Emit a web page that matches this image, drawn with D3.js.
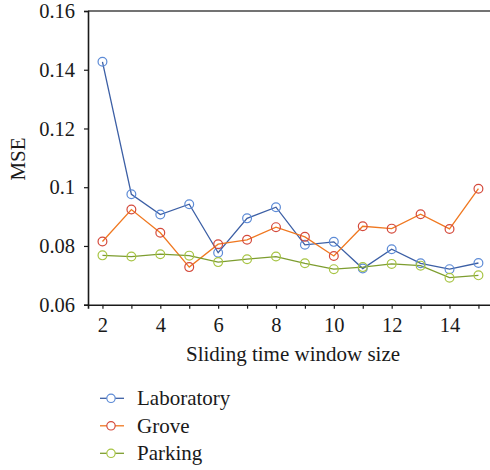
<!DOCTYPE html>
<html>
<head>
<meta charset="utf-8">
<script src="https://cdn.jsdelivr.net/npm/d3@7"></script>
<style>
  html, body { margin: 0; padding: 0; background: #fff; }
  svg { display: block; }
</style>
</head>
<body>
<svg id="chart" width="490" height="470"></svg>
<script>
// Sliding time window sizes
const windowSizes = [2, 3, 4, 5, 6, 7, 8, 9, 10, 11, 12, 13, 14, 15];

// MSE per scene
const laboratory = [0.1427, 0.0976, 0.0907, 0.0942, 0.0777, 0.0894, 0.0932, 0.0804, 0.0814, 0.0723, 0.0789, 0.0741, 0.0721, 0.0742];
const grove      = [0.0815, 0.0924, 0.0845, 0.0728, 0.0806, 0.0821, 0.0864, 0.0831, 0.0766, 0.0867, 0.0859, 0.0908, 0.0858, 0.0995];
const parking    = [0.0768, 0.0764, 0.0772, 0.0767, 0.0745, 0.0755, 0.0764, 0.0741, 0.0721, 0.0728, 0.0739, 0.0733, 0.0692, 0.0700];

const seriesNames = ["Laboratory", "Grove", "Parking"];

// Tick labels
const xTicks = [2, 4, 6, 8, 10, 12, 14];
const yTicks = [0.06, 0.08, 0.1, 0.12, 0.14, 0.16];
const yTickLabels = ["0.06", "0.08", "0.1", "0.12", "0.14", "0.16"];

const FONT = '"Liberation Serif"';
const FS = "20.5px";
const INK = "#1a1a1a";

const series = [
  { name: seriesNames[0], values: laboratory, line: "#3c5fa5", marker: "#5d8bd6" },
  { name: seriesNames[1], values: grove,      line: "#f07820", marker: "#d44a3c" },
  { name: seriesNames[2], values: parking,    line: "#7d9d2f", marker: "#a7c443" }
];

const svg = d3.select("#chart");

const x = d3.scaleLinear().domain([1.5, 15.5]).range([88, 492.9]);
const y = d3.scaleLinear().domain([0.06, 0.16]).range([304.7, 11]);

// Frame: top border
svg.append("line")
  .attr("x1", x(1.5)).attr("x2", x(15.5))
  .attr("y1", y(0.16)).attr("y2", y(0.16))
  .attr("stroke", "#444").attr("stroke-width", 1.6);

// X axis
const xAxis = svg.append("g")
  .attr("transform", `translate(0,${y(0.06)})`)
  .call(d3.axisBottom(x).tickValues(d3.range(2, 16)).tickSize(4)
    .tickFormat(d => xTicks.includes(d) ? d : ""));
xAxis.select(".domain").attr("stroke", INK).attr("stroke-width", 1.6);
xAxis.selectAll(".tick line").attr("stroke", INK).attr("stroke-width", 1.2);
xAxis.selectAll(".tick text")
  .attr("dy", null).attr("y", 27)
  .style("font-family", FONT).style("font-size", FS).attr("fill", INK);

// Y axis
const yAxis = svg.append("g")
  .attr("transform", `translate(${x(1.5)},0)`)
  .call(d3.axisLeft(y).tickValues(yTicks).tickSize(4)
    .tickFormat((d, i) => yTickLabels[i]));
yAxis.select(".domain").attr("stroke", INK).attr("stroke-width", 1.6);
yAxis.selectAll(".tick line").attr("stroke", INK).attr("stroke-width", 1.2);
yAxis.selectAll(".tick text")
  .attr("x", -13).attr("dy", "0.33em")
  .style("font-family", FONT).style("font-size", FS).attr("fill", INK);

// Axis titles
svg.append("text")
  .attr("x", 293).attr("y", 361)
  .attr("text-anchor", "middle")
  .style("font-family", FONT).style("font-size", "21px").attr("fill", INK)
  .text("Sliding time window size");

svg.append("text")
  .attr("transform", "translate(25,159) rotate(-90)")
  .attr("text-anchor", "middle")
  .style("font-family", FONT).style("font-size", "21px").attr("fill", INK)
  .text("MSE");

// Lines and markers
const lineGen = d3.line()
  .x((d, i) => x(windowSizes[i]))
  .y(d => y(d));

series.forEach(s => {
  svg.append("path")
    .datum(s.values)
    .attr("d", lineGen)
    .attr("fill", "none")
    .attr("stroke", s.line)
    .attr("stroke-width", 1.3);
});

series.forEach(s => {
  svg.append("g").selectAll("circle")
    .data(s.values)
    .join("circle")
    .attr("cx", (d, i) => x(windowSizes[i]))
    .attr("cy", d => y(d))
    .attr("r", 4.4)
    .attr("fill", "none")
    .attr("stroke", s.marker)
    .attr("stroke-width", 1.2);
});

// Legend
const legend = svg.append("g");
series.forEach((s, i) => {
  const ly = 398.3 + i * 27.5;
  legend.append("line")
    .attr("x1", 100).attr("x2", 124)
    .attr("y1", ly).attr("y2", ly)
    .attr("stroke", s.line).attr("stroke-width", 1.3);
  legend.append("circle")
    .attr("cx", 111).attr("cy", ly).attr("r", 4.2)
    .attr("fill", "#fff").attr("stroke", s.marker).attr("stroke-width", 1.2);
  legend.append("text")
    .attr("x", 137).attr("y", ly + 7)
    .style("font-family", FONT).style("font-size", "21px").attr("fill", INK)
    .text(s.name);
});
</script>
</body>
</html>
